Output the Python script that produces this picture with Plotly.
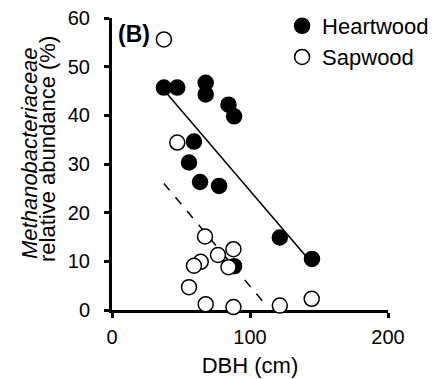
import plotly.graph_objects as go

# Data
heart_x = [37.6, 47.3, 67.9, 67.9, 84.4, 88.5, 59.4, 55.8, 63.8, 77.6, 121.6, 144.9, 88.5]
heart_y = [45.7, 45.7, 46.7, 44.3, 42.2, 39.8, 34.6, 30.3, 26.3, 25.5, 14.9, 10.5, 9.0]

sap_x = [37.6, 47.3, 67.4, 88.0, 76.8, 64.3, 59.4, 84.4, 55.8, 67.9, 88.0, 121.6, 144.7]
sap_y = [55.6, 34.4, 15.1, 12.5, 11.3, 9.9, 9.1, 8.8, 4.7, 1.2, 0.6, 0.9, 2.3]

heart_trend_x = [37.6, 144.9]
heart_trend_y = [45.2, 9.6]
sap_trend_x = [37.6, 113.0]
sap_trend_y = [26.0, 0.5]

x_ticks = [0, 100, 200]
y_ticks = [0, 10, 20, 30, 40, 50, 60]

FONT = "Liberation Sans, Arial, sans-serif"

fig = go.Figure()

fig.add_trace(go.Scatter(x=heart_trend_x, y=heart_trend_y, mode="lines",
                         line=dict(color="black", width=1.5), showlegend=False,
                         hoverinfo="skip"))
fig.add_trace(go.Scatter(x=sap_trend_x, y=sap_trend_y, mode="lines",
                         line=dict(color="black", width=1.5, dash="dash"), showlegend=False,
                         hoverinfo="skip"))

fig.add_trace(go.Scatter(x=heart_x, y=heart_y, mode="markers", name="Heartwood",
                         legend="legend",
                         marker=dict(size=15, color="black", line=dict(color="black", width=1.5)),
                         cliponaxis=False))
fig.add_trace(go.Scatter(x=sap_x, y=sap_y, mode="markers", name="Sapwood",
                         legend="legend2",
                         marker=dict(size=15, color="white", line=dict(color="black", width=1.5)),
                         cliponaxis=False))

axis_common = dict(showgrid=False, zeroline=False, showline=True, linecolor="black",
                   linewidth=3, ticks="outside", ticklen=5, tickwidth=3, tickcolor="black",
                   tickfont=dict(family=FONT, size=20, color="black"), layer="below traces")

legend_common = dict(xanchor="left", yanchor="top", bgcolor="rgba(0,0,0,0)",
                     font=dict(family=FONT, size=22, color="black"))

fig.update_layout(
    width=440, height=379,
    margin=dict(l=112, r=52, t=18, b=69, autoexpand=False),
    paper_bgcolor="white", plot_bgcolor="white",
    font=dict(family=FONT, color="black"),
    xaxis=dict(range=[0, 200], tickvals=x_ticks, ticklabelstandoff=2,
               title=dict(text="DBH (cm)", font=dict(family=FONT, size=22, color="black"), standoff=11),
               **axis_common),
    yaxis=dict(range=[0, 60], tickvals=y_ticks, ticklabelstandoff=10, **axis_common),
    legend=dict(x=0.6163, y=1.0445, **legend_common),
    legend2=dict(x=0.6163, y=0.938, **legend_common),
    showlegend=True,
)

fig.add_annotation(text="<i>Methanobacteriaceae</i>", xref="paper", yref="paper",
                   x=0, xshift=29 - 112, y=(310 - 153) / 292, textangle=-90,
                   showarrow=False, font=dict(family=FONT, size=22, color="black"),
                   xanchor="center", yanchor="middle")
fig.add_annotation(text="relative abundance (%)", xref="paper", yref="paper",
                   x=0, xshift=47 - 112, y=(310 - 149) / 292, textangle=-90,
                   showarrow=False, font=dict(family=FONT, size=22, color="black"),
                   xanchor="center", yanchor="middle")
fig.add_annotation(text="<b>(B)</b>", xref="paper", yref="paper",
                   x=(134 - 112) / 276, y=(310 - 34) / 292, showarrow=False,
                   font=dict(family=FONT, size=23, color="black"),
                   xanchor="center", yanchor="middle")

fig.write_html("out.html", config={"displayModeBar": False},
               post_script="document.body.style.margin='0';")
